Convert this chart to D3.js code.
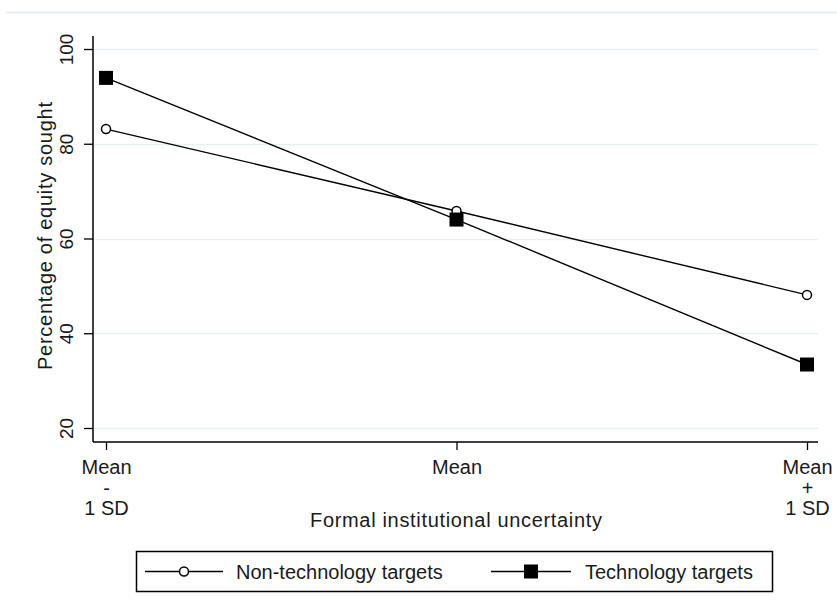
<!DOCTYPE html>
<html>
<head>
<meta charset="utf-8">
<script src="https://cdn.jsdelivr.net/npm/d3@7"></script>
<style>
  html, body { margin: 0; padding: 0; background: #fff; }
  svg { display: block; font-family: "Liberation Sans", Arial, sans-serif; }
</style>
</head>
<body>
<svg width="837" height="606"></svg>
<script>
// data
const categories = ["Mean - 1 SD", "Mean", "Mean + 1 SD"];
const tickLines = [["Mean", "-", "1 SD"], ["Mean"], ["Mean", "+", "1 SD"]];
const nonTech = [83.1, 65.8, 48.1];
const tech = [93.9, 64.0, 33.4];
const yTicks = [20, 40, 60, 80, 100];
const seriesNames = ["Non-technology targets", "Technology targets"];

const svg = d3.select("svg");

// plot frame
const plotLeft = 93, plotRight = 818, plotTop = 36, plotBottom = 442;

const x = d3.scalePoint()
  .domain(categories)
  .range([106, 807]);

const y = d3.scaleLinear()
  .domain([20, 100])
  .range([428, 49]);

// faint line across the top of the graph region
svg.append("line")
  .attr("x1", 6).attr("x2", 837)
  .attr("y1", 12.5).attr("y2", 12.5)
  .attr("stroke", "#e9eff3").attr("stroke-width", 2);

// gridlines
svg.append("g").selectAll("line")
  .data(yTicks)
  .enter().append("line")
  .attr("x1", plotLeft).attr("x2", plotRight)
  .attr("y1", d => Math.round(y(d)) + 0.5)
  .attr("y2", d => Math.round(y(d)) + 0.5)
  .attr("stroke", "#e6eff2").attr("stroke-width", 1.5);

// y axis
const yAxis = d3.axisLeft(y)
  .tickValues(yTicks)
  .tickSize(9)
  .tickPadding(0)
  .tickFormat("");

const yg = svg.append("g")
  .attr("transform", `translate(${plotLeft},0)`)
  .call(yAxis);
yg.select(".domain").remove();
yg.selectAll(".tick line").attr("stroke", "#000").attr("stroke-width", 1.3);

yg.selectAll(".tick").append("text")
  .attr("transform", "rotate(-90)")
  .attr("x", 0)
  .attr("y", -20)
  .attr("text-anchor", "middle")
  .attr("fill", "#1a1a1a")
  .attr("font-size", 19)
  .text(d => d);

svg.append("line")
  .attr("x1", plotLeft).attr("x2", plotLeft)
  .attr("y1", plotTop).attr("y2", plotBottom)
  .attr("stroke", "#000").attr("stroke-width", 1.5);

// x axis
const xAxis = d3.axisBottom(x)
  .tickSize(8)
  .tickFormat("");

const xg = svg.append("g")
  .attr("transform", `translate(0,${plotBottom})`)
  .call(xAxis);
xg.select(".domain").remove();
xg.selectAll(".tick line").attr("stroke", "#000").attr("stroke-width", 1.3);

xg.selectAll(".tick").each(function(d, i) {
  const t = d3.select(this).append("text")
    .attr("text-anchor", "middle")
    .attr("fill", "#1a1a1a")
    .attr("font-size", 20);
  tickLines[i].forEach((s, j) => {
    t.append("tspan")
      .attr("x", 0)
      .attr("y", 32 + j * 20.5)
      .text(s);
  });
});

svg.append("line")
  .attr("x1", plotLeft).attr("x2", plotRight)
  .attr("y1", plotBottom).attr("y2", plotBottom)
  .attr("stroke", "#000").attr("stroke-width", 1.5);

// axis titles
svg.append("text")
  .attr("x", 456).attr("y", 527)
  .attr("text-anchor", "middle")
  .attr("fill", "#1a1a1a")
  .attr("font-size", 20)
  .attr("textLength", 292)
  .text("Formal institutional uncertainty");

svg.append("text")
  .attr("transform", "translate(52,236) rotate(-90)")
  .attr("text-anchor", "middle")
  .attr("fill", "#1a1a1a")
  .attr("font-size", 20)
  .attr("textLength", 268)
  .text("Percentage of equity sought");

// lines
const line = d3.line()
  .x((d, i) => x(categories[i]))
  .y(d => y(d));

svg.append("path")
  .datum(nonTech)
  .attr("d", line)
  .attr("fill", "none").attr("stroke", "#000").attr("stroke-width", 1.4);

svg.append("path")
  .datum(tech)
  .attr("d", line)
  .attr("fill", "none").attr("stroke", "#000").attr("stroke-width", 1.4);

// markers
svg.append("g").selectAll("circle")
  .data(nonTech)
  .enter().append("circle")
  .attr("cx", (d, i) => x(categories[i]))
  .attr("cy", d => y(d))
  .attr("r", 4.5)
  .attr("fill", "#fff").attr("stroke", "#000").attr("stroke-width", 1.5);

svg.append("g").selectAll("rect")
  .data(tech)
  .enter().append("rect")
  .attr("x", (d, i) => x(categories[i]) - 7)
  .attr("y", d => y(d) - 7)
  .attr("width", 14).attr("height", 14)
  .attr("fill", "#000");

// legend
const lg = svg.append("g");
lg.append("rect")
  .attr("x", 136.5).attr("y", 551.5)
  .attr("width", 636).attr("height", 40)
  .attr("fill", "#fff").attr("stroke", "#000").attr("stroke-width", 1.5);

const legendItems = [
  { name: seriesNames[0], x0: 145, x1: 223, textX: 236 },
  { name: seriesNames[1], x0: 491, x1: 571, textX: 585 }
];
const ly = 571.5;

legendItems.forEach((d, i) => {
  lg.append("line")
    .attr("x1", d.x0).attr("x2", d.x1)
    .attr("y1", ly).attr("y2", ly)
    .attr("stroke", "#000").attr("stroke-width", 1.4);
  const cx = (d.x0 + d.x1) / 2;
  if (i === 0) {
    lg.append("circle")
      .attr("cx", cx).attr("cy", ly).attr("r", 4.5)
      .attr("fill", "#fff").attr("stroke", "#000").attr("stroke-width", 1.5);
  } else {
    lg.append("rect")
      .attr("x", cx - 7).attr("y", ly - 7)
      .attr("width", 14).attr("height", 14)
      .attr("fill", "#000");
  }
  lg.append("text")
    .attr("x", d.textX).attr("y", ly + 7)
    .attr("fill", "#1a1a1a")
    .attr("font-size", 20)
    .text(d.name);
});
</script>
</body>
</html>
